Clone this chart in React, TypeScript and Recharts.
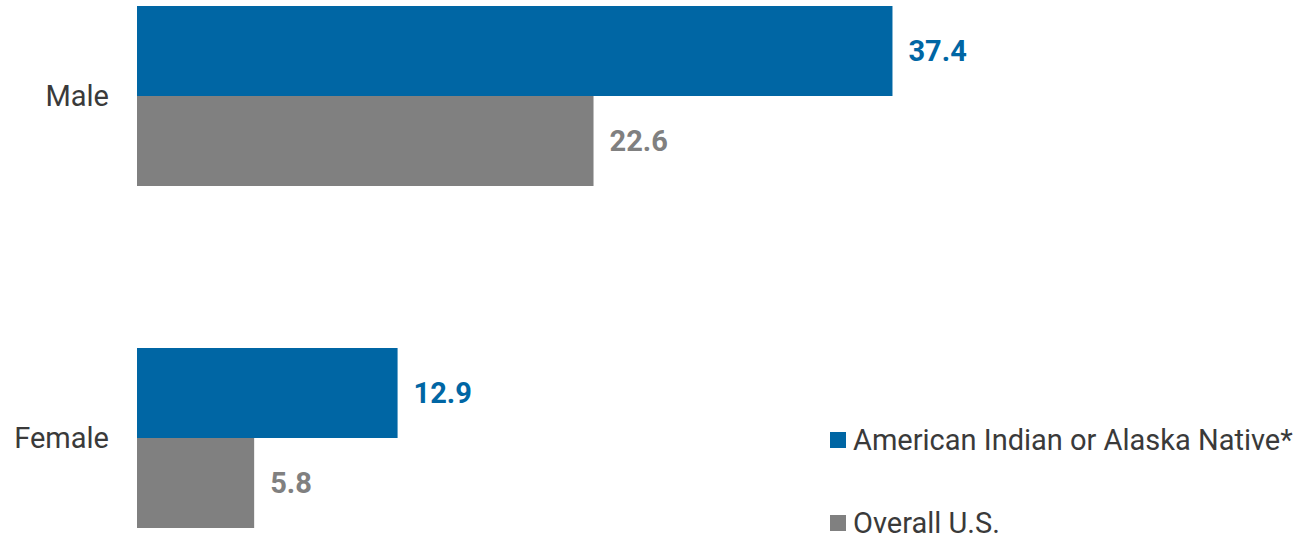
import React from "react";
import { BarChart, Bar, XAxis, YAxis, LabelList, Legend } from "recharts";

const categories = ["Male", "Female"];
const aianValues = [37.4, 12.9];
const overallValues = [22.6, 5.8];
const seriesNames = ["American Indian or Alaska Native*", "Overall U.S."];

const BLUE = "#0066a4";
const GRAY = "#808080";
const TEXT = "#3a3a3a";
const FONT = "Roboto, 'Noto Sans', sans-serif";

const data = categories.map((name, i) => ({
  name,
  aian: aianValues[i],
  overall: overallValues[i],
}));

function LegendBox(props: any) {
  const items = props.payload || [];
  return (
    <ul style={{ listStyle: "none", margin: 0, padding: 0 }}>
      {items.map((entry: any, i: number) => (
        <li
          key={`leg-${i}`}
          style={{
            display: "flex",
            alignItems: "center",
            height: 83,
            fontSize: 29,
            color: TEXT,
            fontFamily: FONT,
            whiteSpace: "nowrap",
          }}
        >
          <span
            style={{
              display: "inline-block",
              width: 16,
              height: 16,
              background: entry.color,
              marginRight: 7,
            }}
          />
          {entry.value}
        </li>
      ))}
    </ul>
  );
}

export default function App() {
  return (
    <div
      style={{
        position: "absolute",
        left: 0,
        top: 0,
        width: 1303,
        height: 536,
        overflow: "hidden",
        background: "#fff",
        fontFamily: FONT,
      }}
    >
      <div style={{ position: "relative", top: -75 }}>
        {/* legend (166px tall) is subtracted from the plot, so height = 684 + 16 + 166 */}
        <BarChart
          width={1303}
          height={866}
          data={data}
          layout="vertical"
          margin={{ top: 0, right: 358, bottom: 16, left: 0 }}
          barGap={0}
          barSize={90}
        >
          <XAxis type="number" domain={[0, 40]} hide />
          <YAxis
            type="category"
            dataKey="name"
            width={137}
            axisLine={false}
            tickLine={false}
            tickSize={0}
            tickMargin={28}
            tick={{ fill: TEXT, fontSize: 29, fontFamily: FONT }}
          />
          <Legend
            content={<LegendBox />}
            wrapperStyle={{ left: 830, top: 473, width: 470 }}
          />
          <Bar dataKey="aian" name={seriesNames[0]} fill={BLUE} isAnimationActive={false}>
            <LabelList
              dataKey="aian"
              position="right"
              offset={16}
              fill={BLUE}
              fontSize={29}
              fontWeight={700}
              fontFamily={FONT}
            />
          </Bar>
          <Bar dataKey="overall" name={seriesNames[1]} fill={GRAY} isAnimationActive={false}>
            <LabelList
              dataKey="overall"
              position="right"
              offset={16}
              fill={GRAY}
              fontSize={29}
              fontWeight={700}
              fontFamily={FONT}
            />
          </Bar>
        </BarChart>
      </div>
    </div>
  );
}
